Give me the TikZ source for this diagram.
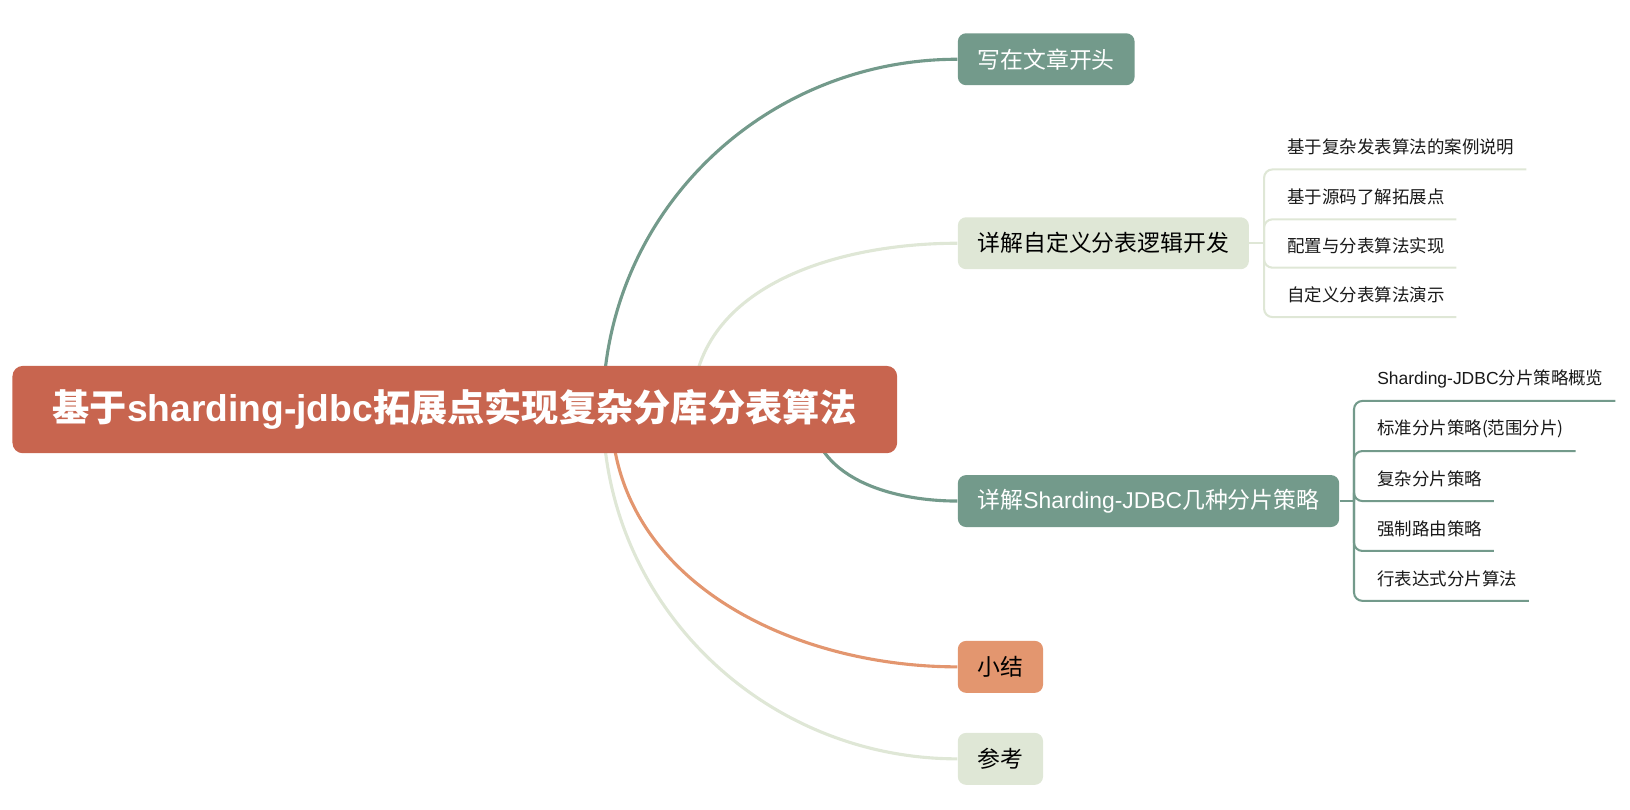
\documentclass[tikz,border=0pt]{standalone}
\usepackage{fontspec}
\setmainfont{Noto Sans CJK SC}
\newfontfamily\lat{Liberation Sans}
\usetikzlibrary{positioning}

\definecolor{rootred}{HTML}{C8654F}
\definecolor{sage}{HTML}{739A8B}
\definecolor{pale}{HTML}{DFE7D6}
\definecolor{peach}{HTML}{E3966F}

\tikzset{
  topic/.style={rounded corners=4pt, anchor=west, inner xsep=9.5pt, inner ysep=0pt,
    minimum height=25pt, font=\fontsize{11}{13}\selectfont},
  leaf/.style={anchor=south west, inner xsep=5.5pt, inner ysep=0pt,
    minimum height=21pt, font=\fontsize{8.4}{10}\selectfont, text=black!90},
  branch/.style={line width=1.5pt},
  twig/.style={line width=1pt, rounded corners=4pt},
}

\begin{document}
\begin{tikzpicture}[x=0.5pt,y=-0.5pt]
        \useasboundingbox (0,0) rectangle (1568,779);

        % Hubs hidden behind the root box
        \coordinate (hubA) at (580,394);
        \coordinate (hubB) at (666,394);
        \coordinate (hubC) at (780,394);
        \coordinate (hubD) at (588,394);

        % Main topics
        \node[topic, fill=sage, text=white] (intro) at (921,57) {写在文章开头};
        \node[topic, fill=pale] (custom) at (921,234) {详解自定义分表逻辑开发};
        \node[topic, fill=sage, text=white] (strategy) at (921,482) {详解{\lat Sharding-JDBC}几种分片策略};
        \node[topic, fill=peach] (summary) at (921,641.5) {小结};
        \node[topic, fill=pale] (refs) at (921,730) {参考};

        % Curves from the root
        \draw[branch, sage] (hubA) to[out=90,in=180] (intro.west);
        \draw[branch, pale] (hubB) to[out=90,in=180] (custom.west);
        \draw[branch, sage] (hubC) to[out=-90,in=180] (strategy.west);
        \draw[branch, peach] (hubD) to[out=-90,in=180] (summary.west);
        \draw[branch, pale] (hubA) to[out=-90,in=180] (refs.west);

        % Root topic
        \node[fill=rootred, rounded corners=5pt, text=white, inner xsep=0pt,
          minimum width=425.5pt, minimum height=42pt,
          font=\fontsize{17.9}{20}\selectfont\bfseries] (root) at (437.5,394)
          {基于{\lat sharding-jdbc}拓展点实现复杂分库分表算法};

        % Subtopics of the custom logic branch
        \coordinate (cfork) at (1216,234);
        \draw[twig, pale] (custom.east) -- (cfork);
        \foreach \y/\t [count=\i] in {163/基于复杂发表算法的案例说明, 211/基于源码了解拓展点,
            257.5/配置与分表算法实现, 305/自定义分表算法演示} {
            \node[leaf] (cl\i) at (1227,\y) {\t};
            \draw[twig, pale] (cfork) |- (cl\i.south east);
        }

        % Subtopics of the strategy branch
        \coordinate (sfork) at (1302.5,482);
        \draw[twig, sage] (strategy.east) -- (sfork);
        \foreach \y/\t [count=\i] in {385.7/{\lat Sharding-JDBC}分片策略概览, 433.9/标准分片策略(范围分片),
            482/复杂分片策略, 530/强制路由策略, 578/行表达式分片算法} {
            \node[leaf] (sl\i) at (1313.5,\y) {\t};
            \draw[twig, sage] (sfork) |- (sl\i.south east);
        }
\end{tikzpicture}
\end{document}
